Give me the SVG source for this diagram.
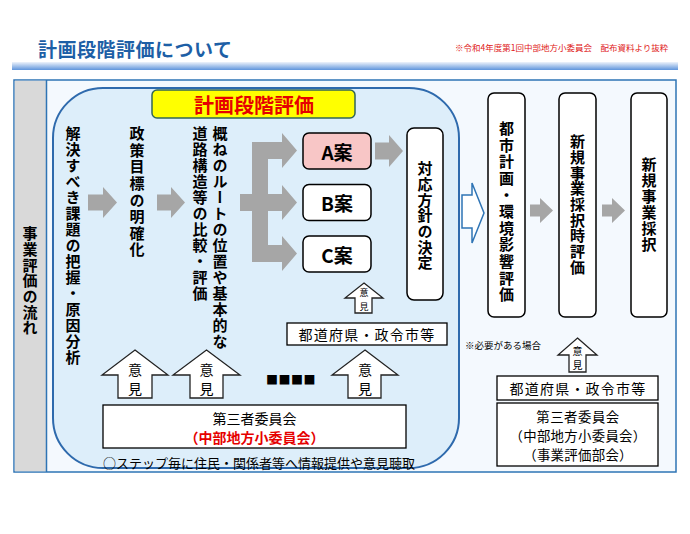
<svg xmlns="http://www.w3.org/2000/svg" width="690" height="534" viewBox="0 0 690 534">
<defs>
<linearGradient id="bar" x1="0" y1="0" x2="0" y2="1">
<stop offset="0" stop-color="#eef3fb"/>
<stop offset="1" stop-color="#5f95dc"/>
</linearGradient>
<style>
text{font-family:"Noto Sans CJK JP","Noto Sans CJK SC",sans-serif;}
.v{writing-mode:vertical-rl;font-weight:bold;font-size:15px;fill:#000;}
.c{text-anchor:middle;dominant-baseline:central;}
.box{fill:#fff;stroke:#000;stroke-width:1.5;}
.garrow{fill:#a6a6a6;stroke:none;}
.iken{fill:#fff;stroke:#222;stroke-width:1.3;}
.lbl{font-size:14px;fill:#000;}
.lbl2{font-size:13.4px;fill:#000;}
.red{font-size:14px;font-weight:bold;fill:#e60000;}
</style>
</defs>
<rect x="0" y="0" width="690" height="534" fill="#fff"/>

<g id="header">
<text x="38" y="57" font-size="19" font-weight="bold" fill="#1d5fa6" letter-spacing="0.5">計画段階評価について</text>
<text x="455" y="51" font-size="8.5" fill="#e02020">※令和4年度第1回中部地方小委員会　配布資料より抜粋</text>
<rect x="12" y="62" width="666" height="8" fill="url(#bar)"/>
</g>

<g id="frame">
<rect x="14" y="80" width="662" height="392" fill="#f4f9fe" stroke="#2e74b5" stroke-width="1.5"/>
<rect x="14.75" y="80.75" width="31.5" height="390.5" fill="#d9d9d9"/>
<line x1="46.5" y1="80" x2="46.5" y2="472" stroke="#2e74b5" stroke-width="1.5"/>
<text class="v" x="30" y="226" letter-spacing="0.7">事業評価の流れ</text>
</g>

<g id="planning-stage">
<rect x="53" y="88" width="406" height="380" rx="50" ry="50" fill="#ddeefa" stroke="#2e6aad" stroke-width="2"/>
</g>

<g id="title-box">
<rect x="152" y="90" width="203" height="28" rx="5" fill="#ffff00" stroke="#336655" stroke-width="1.5"/>
<text class="c" x="254" y="104" font-size="20" font-weight="bold" fill="#e60000">計画段階評価</text>
</g>

<g id="step1"><text class="v" x="73" y="126" letter-spacing="1">解決すべき課題の把握・原因分析</text></g>
<g id="step2"><text class="v" x="137" y="126" letter-spacing="1.6">政策目標の明確化</text></g>
<g id="step3">
<text class="v" x="220" y="126" letter-spacing="1">概ねのルートの位置や基本的な</text>
<text class="v" x="200" y="126" letter-spacing="1">道路構造等の比較・評価</text>
</g>

<g id="planA"><rect x="303" y="133" width="68" height="36" rx="6" fill="#f8c6c6" stroke="#000" stroke-width="1.5"/><text class="c" x="337" y="151" font-size="19" font-weight="bold">A案</text></g>
<g id="planB"><rect class="box" x="303" y="184.5" width="68" height="36" rx="6"/><text class="c" x="337" y="202.5" font-size="19" font-weight="bold">B案</text></g>
<g id="planC"><rect class="box" x="303" y="236" width="68" height="36" rx="6"/><text class="c" x="337" y="254" font-size="19" font-weight="bold">C案</text></g>

<g id="decision"><rect class="box" x="407" y="128" width="36" height="172" rx="7"/><text class="v" x="425" y="161" letter-spacing="0.7">対応方針の決定</text></g>

<g id="pref-mid"><rect x="287" y="323" width="160" height="22" fill="#fff" stroke="#000" stroke-width="1.3"/><text class="c lbl" x="367" y="334" letter-spacing="1.2">都道府県・政令市等</text></g>

<g id="committee-mid">
<rect x="103" y="405" width="303" height="43" fill="#fff" stroke="#000" stroke-width="1.3"/>
<text class="c lbl" x="254.5" y="418">第三者委員会</text>
<text class="c red" x="254.5" y="437">（中部地方小委員会）</text>
</g>
<g id="note-mid"><text class="c" x="259" y="462" font-size="13" fill="#000">○ステップ毎に住民・関係者等へ情報提供や意見聴取</text></g>

<g id="eia"><rect class="box" x="488" y="93" width="37" height="224" rx="6"/><text class="v" x="506.5" y="121" font-size="16" letter-spacing="1.6">都市計画・環境影響評価</text></g>
<g id="adoption-eval"><rect class="box" x="559" y="93" width="37" height="224" rx="6"/><text class="v" x="577.5" y="134" font-size="16" letter-spacing="0.7">新規事業採択時評価</text></g>
<g id="adoption"><rect class="box" x="631" y="93" width="36" height="224" rx="6"/><text class="v" x="649" y="157" font-size="16" letter-spacing="1">新規事業採択</text></g>

<g id="note-right"><text x="465" y="349" font-size="9.5" fill="#000">※必要がある場合</text></g>
<g id="pref-right"><rect x="497" y="376" width="161" height="24" fill="#fff" stroke="#000" stroke-width="1.3"/><text class="c lbl" x="578" y="388" letter-spacing="1.2">都道府県・政令市等</text></g>
<g id="committee-right">
<rect x="497" y="403" width="161" height="63" fill="#fff" stroke="#000" stroke-width="1.3"/>
<text class="c lbl2" x="578" y="416" letter-spacing="0.5">第三者委員会</text>
<text class="c lbl2" x="578" y="435" letter-spacing="0.3">（中部地方小委員会）</text>
<text class="c lbl2" x="578" y="454" letter-spacing="0.3">（事業評価部会）</text>
</g>

<g id="connectors">
<path class="garrow" d="M88,194.5 H103 V187 L117,202.5 L103,218 V210.5 H88 Z"/>
<path class="garrow" d="M157,194.5 H171 V187 L185,202.5 L171,218 V210.5 H157 Z"/>
<path class="garrow" d="M240,194 H252 V142 H282 V133 L297,150.5 L282,168 V159 H268 V194 H282 V185 L297,202.5 L282,220 V211 H268 V245 H282 V236 L297,253.5 L282,271 V262 H252 V211 H240 Z"/>
<path class="garrow" d="M375,142.5 H389 V135 L403,151 L389,167 V159.5 H375 Z"/>
<path d="M462,195 H472 V183 L484,213 L472,243 V228 H462 Z" fill="#fff" stroke="#2e74b5" stroke-width="1.5"/>
<path class="garrow" d="M530,204.5 H540 V198 L553,210.5 L540,223 V216.5 H530 Z"/>
<path class="garrow" d="M602,204.5 H612 V198 L625,210.5 L612,223 V216.5 H602 Z"/>

<path class="iken" d="M135,350 L168,375 H152 V398 H118 V375 H102 Z"/>
<text class="c" x="135" y="369" font-size="14">意</text><text class="c" x="135" y="388" font-size="14">見</text>
<path class="iken" d="M206.5,350 L240,375 H223 V398 H190 V375 H173 Z"/>
<text class="c" x="206.5" y="369" font-size="14">意</text><text class="c" x="206.5" y="388" font-size="14">見</text>
<text class="c" x="291" y="379" font-size="12" letter-spacing="0.5">■■■■</text>
<path class="iken" d="M365,350 L398,375 H381 V398 H348 V375 H332 Z"/>
<text class="c" x="365" y="369" font-size="14">意</text><text class="c" x="365" y="388" font-size="14">見</text>

<path class="iken" d="M364,283 L383,298 H372 V313 H355 V298 H345 Z"/>
<text class="c" x="364" y="292.5" font-size="9">意</text><text class="c" x="364" y="306" font-size="9">見</text>
<path class="iken" d="M577.5,338 L597,355 H586 V372 H569 V355 H558 Z"/>
<text class="c" x="577.5" y="350" font-size="10">意</text><text class="c" x="577.5" y="364" font-size="10">見</text>
</g>
</svg>
